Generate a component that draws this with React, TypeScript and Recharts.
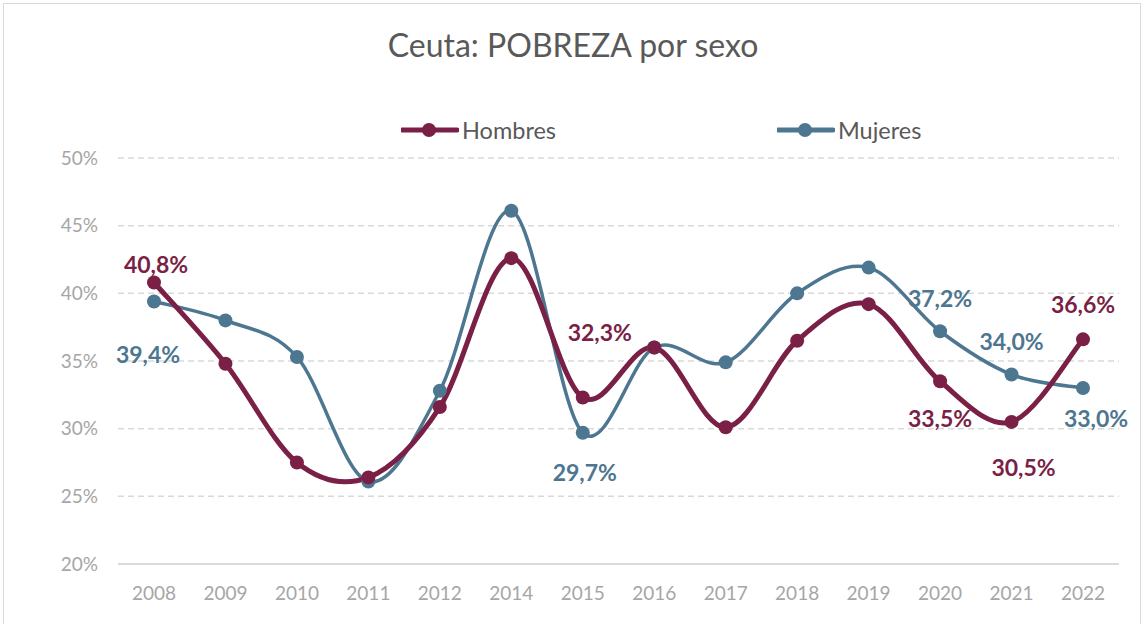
import React from "react";
import { LineChart, Line, XAxis, YAxis, CartesianGrid, LabelList } from "recharts";

const years = ["2008", "2009", "2010", "2011", "2012", "2014", "2015", "2016", "2017", "2018", "2019", "2020", "2021", "2022"];
const hombres = [40.8, 34.8, 27.5, 26.4, 31.6, 42.6, 32.3, 36.0, 30.1, 36.5, 39.2, 33.5, 30.5, 36.6];
const mujeres = [39.4, 38.0, 35.3, 26.1, 32.8, 46.1, 29.7, 36.0, 34.9, 40.0, 41.9, 37.2, 34.0, 33.0];
const yTicks = [20, 25, 30, 35, 40, 45, 50];

const HOMBRES_COLOR = "#7a1f45";
const MUJERES_COLOR = "#4d7690";
const FONT = "Lato, 'Open Sans', sans-serif";

// label offsets (dx, dy) per point index; only labelled points are listed
const hombresLabels: Record<number, [number, number]> = {
  0: [2, -19],
  6: [17, -66],
  11: [0, 37],
  12: [12, 45],
  13: [0, -35],
};
const mujeresLabels: Record<number, [number, number]> = {
  0: [-6, 53],
  6: [2, 39],
  11: [0, -33],
  12: [0, -34],
  13: [13, 30],
};

const data = years.map((y, i) => ({ year: y, hombres: hombres[i], mujeres: mujeres[i] }));

// Excel style smoothed line (Catmull-Rom / cardinal with tension 0)
const excelCurve = (context: any) => {
  let pts: [number, number][] = [];
  return {
    areaStart() {},
    areaEnd() {},
    lineStart() {
      pts = [];
    },
    point(x: number, y: number) {
      pts.push([+x, +y]);
    },
    lineEnd() {
      if (!pts.length) return;
      context.moveTo(pts[0][0], pts[0][1]);
      for (let i = 0; i < pts.length - 1; i++) {
        const p0 = pts[Math.max(0, i - 1)];
        const p1 = pts[i];
        const p2 = pts[i + 1];
        const p3 = pts[Math.min(pts.length - 1, i + 2)];
        const c1x = p1[0] + (p2[0] - p0[0]) / 6;
        const c1y = p1[1] + (p2[1] - p0[1]) / 6;
        const c2x = p2[0] - (p3[0] - p1[0]) / 6;
        const c2y = p2[1] - (p3[1] - p1[1]) / 6;
        context.bezierCurveTo(c1x, c1y, c2x, c2y, p2[0], p2[1]);
      }
    },
  };
};

const fmt = (v: number) => v.toFixed(1).replace(".", ",") + "%";

const makeLabel = (offsets: Record<number, [number, number]>, color: string) => (props: any) => {
  const { x, y, value, index } = props;
  const off = offsets[index];
  if (!off) return null;
  return (
    <text
      x={x + off[0]}
      y={y + off[1]}
      textAnchor="middle"
      dominantBaseline="central"
      fill={color}
      fontFamily={FONT}
      fontWeight={700}
      fontSize={23}
    >
      {fmt(value)}
    </text>
  );
};

const LegendItem = ({ color, label, left }: { color: string; label: string; left: number }) => (
  <div style={{ position: "absolute", left, top: 116, display: "flex", alignItems: "center", height: 28 }}>
    <svg width={58} height={20}>
      <line x1={1} y1={10} x2={56} y2={10} stroke={color} strokeWidth={5} strokeLinecap="round" />
      <circle cx={28} cy={10} r={7} fill={color} />
    </svg>
    <span style={{ fontFamily: FONT, fontSize: 23.5, color: "#595959", marginLeft: 3 }}>{label}</span>
  </div>
);

export default function App() {
  return (
    <div style={{ position: "absolute", left: 0, top: 0, width: 1146, height: 624, background: "#fff", overflow: "hidden" }}>
      <div
        style={{
          position: "absolute",
          left: 3,
          top: 3,
          width: 1136,
          height: 640,
          border: "1.5px solid #d9d9d9",
        }}
      />
      <div
        style={{
          position: "absolute",
          left: 0,
          top: 25,
          width: 1146,
          textAlign: "center",
          fontFamily: FONT,
          fontSize: 32,
          color: "#595959",
        }}
      >
        Ceuta: POBREZA por sexo
      </div>
      <LegendItem color={HOMBRES_COLOR} label="Hombres" left={401} />
      <LegendItem color={MUJERES_COLOR} label="Mujeres" left={777} />
      <div style={{ position: "absolute", left: 0, top: 0 }}>
        <LineChart width={1146} height={624} data={data} margin={{ top: 158, right: 27, bottom: 20, left: 8 }}>
          <CartesianGrid vertical={false} stroke="#d9d9d9" strokeDasharray="6 4" strokeWidth={1.5} />
          <XAxis
            dataKey="year"
            padding={{ left: 36, right: 36 }}
            axisLine={{ stroke: "#d9d9d9", strokeWidth: 2 }}
            tickLine={false}
            tick={{ fill: "#a6a6a6", fontSize: 19, fontFamily: FONT }}
            tickMargin={17}
            height={40}
            interval={0}
          />
          <YAxis
            domain={[20, 50]}
            ticks={yTicks}
            axisLine={false}
            tickLine={false}
            width={110}
            tick={{ fill: "#a6a6a6", fontSize: 19, fontFamily: FONT }}
            tickFormatter={(v: number) => `${v}%`}
            tickMargin={14}
          />
          <Line
            dataKey="mujeres"
            type={excelCurve as any}
            stroke={MUJERES_COLOR}
            strokeWidth={3.5}
            dot={{ r: 7, fill: MUJERES_COLOR, stroke: MUJERES_COLOR, strokeWidth: 0 }}
            activeDot={false}
            isAnimationActive={false}
          >
            <LabelList dataKey="mujeres" content={makeLabel(mujeresLabels, MUJERES_COLOR)} />
          </Line>
          <Line
            dataKey="hombres"
            type={excelCurve as any}
            stroke={HOMBRES_COLOR}
            strokeWidth={5}
            dot={{ r: 7, fill: HOMBRES_COLOR, stroke: HOMBRES_COLOR, strokeWidth: 0 }}
            activeDot={false}
            isAnimationActive={false}
          >
            <LabelList dataKey="hombres" content={makeLabel(hombresLabels, HOMBRES_COLOR)} />
          </Line>
        </LineChart>
      </div>
    </div>
  );
}
